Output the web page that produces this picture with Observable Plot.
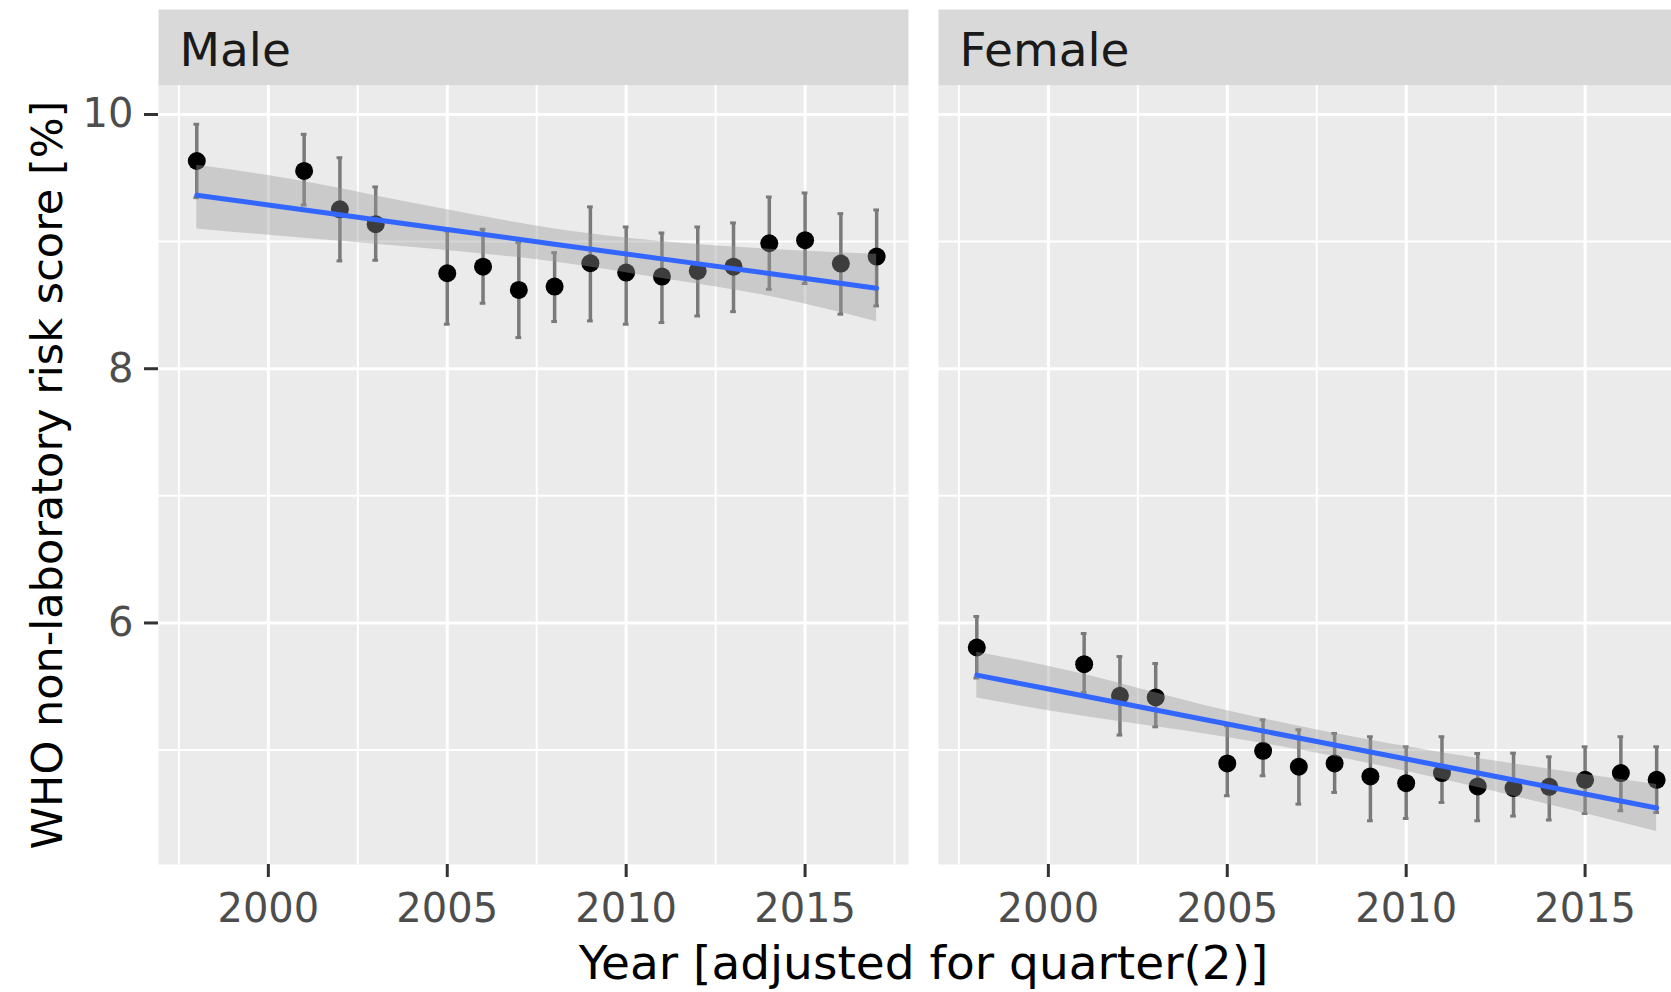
<!DOCTYPE html>
<html>
<head>
<meta charset="utf-8">
<script src="https://cdn.jsdelivr.net/npm/d3@7"></script>
<script src="https://cdn.jsdelivr.net/npm/@observablehq/plot@0.6"></script>
<style>
  html, body { margin: 0; padding: 0; background: #ffffff; overflow: hidden; }
  #chart { width: 1671px; height: 992px; overflow: hidden; }
  #chart svg { max-width: none !important; }
</style>
</head>
<body>
<div id="chart"></div>
<script>
// Survey years (1999, 2000 and 2004 have no estimate)
const years = [1998, 2001, 2002, 2003, 2005, 2006, 2007, 2008, 2009, 2010, 2011, 2012, 2013, 2014, 2015, 2016, 2017];

// Mean WHO non-laboratory risk score [%] with 95% confidence limits
const maleMean  = [9.634, 9.556, 9.254, 9.137, 8.751, 8.803, 8.620, 8.646, 8.830, 8.756, 8.725, 8.769, 8.803, 8.987, 9.011, 8.827, 8.882];
const maleLower = [9.346, 9.288, 8.848, 8.853, 8.350, 8.515, 8.245, 8.371, 8.376, 8.350, 8.363, 8.415, 8.449, 8.625, 8.670, 8.429, 8.494];
const maleUpper = [9.923, 9.844, 9.660, 9.430, 9.084, 9.097, 8.992, 8.913, 9.273, 9.115, 9.068, 9.115, 9.147, 9.351, 9.383, 9.220, 9.249];

const femaleMean  = [5.807, 5.676, 5.427, 5.414, 4.895, 4.994, 4.869, 4.895, 4.793, 4.740, 4.819, 4.714, 4.701, 4.711, 4.766, 4.819, 4.766];
const femaleLower = [5.567, 5.453, 5.118, 5.183, 4.641, 4.798, 4.575, 4.667, 4.444, 4.462, 4.588, 4.444, 4.481, 4.450, 4.501, 4.523, 4.509];
const femaleUpper = [6.051, 5.917, 5.736, 5.681, 5.191, 5.238, 5.160, 5.131, 5.105, 5.026, 5.105, 4.973, 4.976, 4.947, 5.026, 5.105, 5.026];

// Linear trend with its 95% confidence band
const fitYears = [1998, 2000, 2005, 2008, 2011, 2014, 2017];
const maleFit      = [9.365, 9.288, 9.095, 8.980, 8.864, 8.749, 8.633];
const maleFitLower = [9.10, 9.05, 8.93, 8.84, 8.71, 8.57, 8.37];
const maleFitUpper = [9.60, 9.52, 9.25, 9.10, 9.00, 8.94, 8.90];
const femaleFit      = [5.590, 5.480, 5.205, 5.040, 4.875, 4.710, 4.544];
const femaleFitLower = [5.41, 5.31, 5.10, 4.95, 4.77, 4.57, 4.36];
const femaleFitUpper = [5.77, 5.66, 5.31, 5.13, 4.98, 4.85, 4.73];

// Panels and axis ticks
const sexes = ["Male", "Female"];
const xMajorTicks = [2000, 2005, 2010, 2015];
const xMinorTicks = [1997.5, 2002.5, 2007.5, 2012.5, 2017.5];
const yMajorTicks = [6, 8, 10];
const yMinorTicks = [5, 7, 9];

const xTitle = "Year [adjusted for quarter(2)]";
const yTitle = "WHO non-laboratory risk score [%]";

// Long tables for the faceted chart
const points = [];
years.forEach((year, i) => {
  points.push({sex: "Male", year, mean: maleMean[i], lower: maleLower[i], upper: maleUpper[i]});
  points.push({sex: "Female", year, mean: femaleMean[i], lower: femaleLower[i], upper: femaleUpper[i]});
});
const trend = [];
fitYears.forEach((year, i) => {
  trend.push({sex: "Male", year, fit: maleFit[i], lo: maleFitLower[i], hi: maleFitUpper[i]});
  trend.push({sex: "Female", year, fit: femaleFit[i], lo: femaleFitLower[i], hi: femaleFitUpper[i]});
});

const FONT = "DejaVu Sans";
const frameHeight = 992 - 85 - 128;
const capHalf = 0.08;

const chart = Plot.plot({
  width: 1688,
  height: 992,
  marginLeft: 158,
  marginRight: 0,
  marginTop: 85,
  marginBottom: 128,
  style: {fontFamily: FONT, background: "#ffffff", overflow: "visible", maxWidth: "none"},
  fx: {domain: sexes, axis: null, paddingInner: 0.0385, paddingOuter: 0, round: false},
  x: {domain: [1996.93, 2017.89]},
  y: {domain: [4.1, 10.228]},
  marks: [
    // panel background and strip
    Plot.frame({fill: "#ebebeb"}),
    Plot.frame({fill: "#d9d9d9", insetTop: -76, insetBottom: frameHeight}),
    Plot.text(sexes, {fx: d => d, text: d => d, frameAnchor: "top-left", textAnchor: "start",
      dx: 21, dy: -35, fontSize: 47, fill: "#1a1a1a", lineAnchor: "middle"}),

    // grid
    Plot.ruleY(yMinorTicks, {stroke: "#ffffff", strokeWidth: 2}),
    Plot.ruleX(xMinorTicks, {stroke: "#ffffff", strokeWidth: 2}),
    Plot.ruleY(yMajorTicks, {stroke: "#ffffff", strokeWidth: 3}),
    Plot.ruleX(xMajorTicks, {stroke: "#ffffff", strokeWidth: 3}),

    // error bars with short caps
    Plot.ruleX(points, {fx: "sex", x: "year", y1: "lower", y2: "upper", stroke: "#7a7a7a", strokeWidth: 3.5}),
    Plot.ruleY(points, {fx: "sex", y: "upper", x1: d => d.year - capHalf, x2: d => d.year + capHalf, stroke: "#7a7a7a", strokeWidth: 3}),
    Plot.ruleY(points, {fx: "sex", y: "lower", x1: d => d.year - capHalf, x2: d => d.year + capHalf, stroke: "#7a7a7a", strokeWidth: 3}),

    // yearly means
    Plot.dot(points, {fx: "sex", x: "year", y: "mean", r: 9, fill: "#000000", stroke: null}),

    // linear trend and confidence band
    Plot.areaY(trend, {fx: "sex", x: "year", y1: "lo", y2: "hi", fill: "#999999", fillOpacity: 0.4, curve: "monotone-x"}),
    Plot.line(trend, {fx: "sex", x: "year", y: "fit", stroke: "#3366ff", strokeWidth: 5}),

    // axes
    Plot.axisX({ticks: xMajorTicks, tickFormat: d => String(d), tickSize: 13, tickPadding: 16,
      fontSize: 40, stroke: "#333333", strokeWidth: 3, fill: "#4d4d4d", label: null}),
    Plot.axisY({ticks: yMajorTicks, tickFormat: d => String(d), tickSize: 14, tickPadding: 11,
      fontSize: 40, stroke: "#333333", strokeWidth: 3, fill: "#4d4d4d", label: null}),

    // axis titles
    Plot.text([xTitle], {text: d => d, facet: "super", frameAnchor: "bottom", dy: 99,
      fontSize: 47, fill: "#000000", lineAnchor: "middle"}),
    Plot.text([yTitle], {text: d => d, facet: "super", frameAnchor: "left", dx: -110, rotate: -90,
      textAnchor: "middle", fontSize: 43, fill: "#000000", lineAnchor: "middle"})
  ]
});

document.getElementById("chart").appendChild(chart);
</script>
</body>
</html>
